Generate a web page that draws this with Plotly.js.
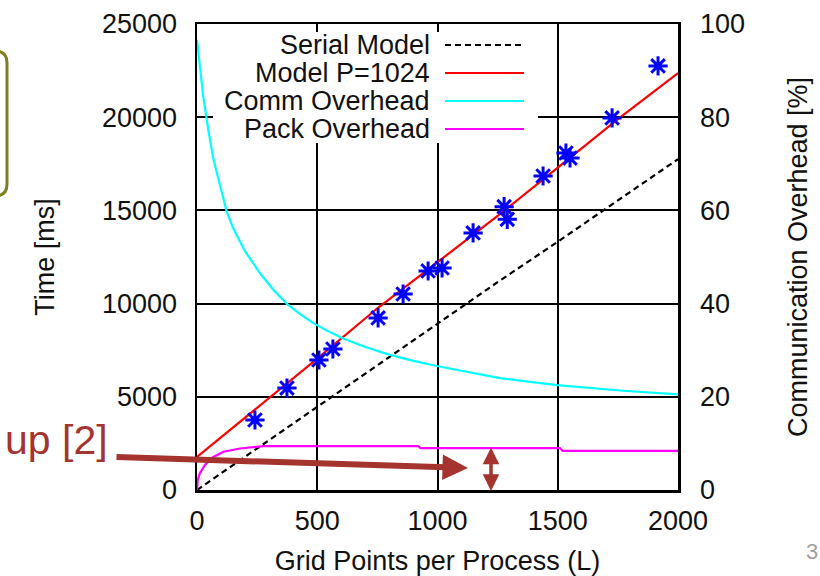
<!DOCTYPE html>
<html>
<head>
<meta charset="utf-8">
<script src="https://cdn.plot.ly/plotly-3.0.1.min.js"></script>
<style>
html,body{margin:0;padding:0;background:#fff;}
#chart{width:820px;height:576px;}
</style>
</head>
<body>
<div id="chart"></div>
<script>
// ---- data ----
const modelL       = [0, 250, 500, 750, 1000, 1250, 1500, 1750, 2000];
const serialModel  = [0, 2230, 4500, 6720, 8950, 11150, 13320, 15550, 17750];
const modelP1024   = [1770, 4400, 7050, 9750, 12200, 14700, 17300, 19900, 22370];

const measL = [241, 374, 507, 565, 753, 857, 961, 1019, 1148, 1277, 1290, 1439, 1534, 1551, 1726, 1917];
const measT = [3755, 5470, 6975, 7565, 9230, 10515, 11750, 11910, 13790, 15200, 14520, 16845, 18080, 17810, 19960, 22750];

const commL   = [0, 26, 47, 68, 100, 124, 150, 200, 262, 320, 373, 430, 484, 540, 608, 700, 802, 900, 997, 1260, 1496, 1772, 2000];
const commPct = [96.6, 84.4, 77.3, 71, 64.5, 59.7, 56.2, 51.2, 46.5, 42.8, 40, 37.7, 35.8, 34.2, 32.5, 30.7, 29, 27.7, 26.6, 24, 22.5, 21.3, 20.5];

const packL   = [0, 3, 12, 33, 68, 110, 179, 276, 919, 930, 1509, 1520, 2000];
const packPct = [0, 2.1, 3.6, 5.4, 7.1, 8.2, 8.9, 9.4, 9.4, 9.0, 9.0, 8.4, 8.4];

const legendNames = ["Serial Model", "Model P=1024", "Comm Overhead", "Pack Overhead"];
const legendColors = ["#000000", "#ff0000", "#00ffff", "#ff00ff"];
const legendDash = ["6px,4px", "solid", "solid", "solid"];

const xTicks  = [0, 500, 1000, 1500, 2000];
const yTicks  = [0, 5000, 10000, 15000, 20000, 25000];
const y2Ticks = [0, 20, 40, 60, 80, 100];

// ---- geometry helpers (plot area in pixels) ----
const W = 820, H = 576;
const PL = 197, PR = 678, PT = 24, PB = 490;
const px = v => (v - PL) / (PR - PL);
const py = v => (PB - v) / (PB - PT);

const FONT = "Liberation Sans, Arial, Helvetica, sans-serif";
const TXT = "#111111";
const ARROW = "#a5332e";
const FS = 27;

const traces = [
  {x: modelL, y: serialModel, mode: "lines", name: legendNames[0],
   line: {color: "#000", width: 2.2, dash: "6px,4px"}},
  {x: modelL, y: modelP1024, mode: "lines", name: legendNames[1],
   line: {color: "#ff0000", width: 2.2}},
  {x: commL, y: commPct, yaxis: "y2", mode: "lines", name: legendNames[2],
   line: {color: "#00ffff", width: 2.2}},
  {x: packL, y: packPct, yaxis: "y2", mode: "lines", name: legendNames[3],
   line: {color: "#ff00ff", width: 2.2}},
  {x: measL, y: measT, mode: "markers", name: "Measured",
   marker: {symbol: "asterisk-open", size: 16, color: "#0000ff",
            line: {color: "#0000ff", width: 3}}}
];

// custom legend (text on the left, line sample on the right)
const shapes = [
  {type: "rect", xref: "paper", yref: "paper", x0: px(213), x1: px(538), y0: py(143), y1: py(32),
   fillcolor: "#fff", line: {width: 0}, layer: "above"}
];
const annotations = [];
const rowY = [45, 73, 101, 129];
legendNames.forEach((n, i) => {
  annotations.push({xref: "paper", yref: "paper", x: px(432), y: py(rowY[i]),
    xanchor: "right", yanchor: "middle", showarrow: false, text: n,
    font: {family: FONT, size: FS, color: TXT}});
  shapes.push({type: "line", xref: "paper", yref: "paper", x0: px(445), x1: px(524),
    y0: py(rowY[i]), y1: py(rowY[i]), layer: "above",
    line: {color: legendColors[i], width: 2.2, dash: legendDash[i]}});
});

// slide decorations
// olive rounded box at the left edge
(function(){
  const r = 12, x0 = -40, x1 = 7, y0 = 51, y1 = 196;
  const P = (x, y) => px(x).toFixed(5) + "," + py(y).toFixed(5);
  const path = "M" + P(x0, y0) + " L" + P(x1 - r, y0) +
    " Q" + P(x1, y0) + " " + P(x1, y0 + r) +
    " L" + P(x1, y1 - r) +
    " Q" + P(x1, y1) + " " + P(x1 - r, y1) +
    " L" + P(x0, y1);
  shapes.push({type: "path", xref: "paper", yref: "paper", path: path,
    line: {color: "#7f7f1e", width: 3}, layer: "above"});
})();

annotations.push({xref: "paper", yref: "paper", x: px(110), y: py(440),
  xanchor: "right", yanchor: "middle", showarrow: false, text: "up [2]",
  font: {family: FONT, size: 41, color: ARROW}});
annotations.push({xref: "paper", yref: "paper", x: px(468), y: py(468),
  axref: "pixel", ayref: "pixel", ax: -353, ay: -11, text: "", showarrow: true,
  arrowhead: 2, arrowsize: 0.85, arrowwidth: 6, arrowcolor: ARROW});
annotations.push({xref: "paper", yref: "paper", x: px(491), y: py(491),
  ax: 0, ay: -45, text: "", showarrow: true, arrowside: "end+start",
  arrowhead: 2, arrowsize: 0.95, startarrowhead: 2, startarrowsize: 0.95,
  arrowwidth: 3.5, arrowcolor: ARROW});
annotations.push({xref: "paper", yref: "paper", x: px(812), y: py(551),
  xanchor: "center", yanchor: "middle", showarrow: false, text: "3",
  font: {family: FONT, size: 22, color: "#a0a0a0"}});

const axisCommon = {
  showline: true, linecolor: "#000", linewidth: 2.5,
  showgrid: true, gridcolor: "#000", gridwidth: 2,
  ticks: "inside", ticklen: 8, tickwidth: 2, tickcolor: "#000",
  zeroline: false, tickfont: {family: FONT, size: FS, color: TXT}
};

const layout = {
  width: W, height: H,
  margin: {l: PL, r: W - PR, t: PT, b: H - PB},
  paper_bgcolor: "#fff", plot_bgcolor: "#fff",
  showlegend: false,
  font: {family: FONT, color: TXT},
  xaxis: Object.assign({}, axisCommon, {
    range: [0, 2000], tickvals: xTicks, ticktext: xTicks.map(String),
    mirror: "ticks", ticklabelstandoff: 5,
    title: {text: "Grid Points per Process (L)", font: {family: FONT, size: FS, color: TXT}, standoff: 16}
  }),
  yaxis: Object.assign({}, axisCommon, {
    range: [0, 25000], tickvals: yTicks, ticktext: yTicks.map(String),
    mirror: true, ticklabelstandoff: 12,
    title: {text: "Time [ms]", font: {family: FONT, size: FS, color: TXT}, standoff: 40}
  }),
  yaxis2: Object.assign({}, axisCommon, {
    overlaying: "y", side: "right", showgrid: false,
    range: [0, 100], tickvals: y2Ticks, ticktext: y2Ticks.map(String),
    ticklabelstandoff: 14,
    title: {text: "Communication Overhead [%]", font: {family: FONT, size: FS, color: TXT}, standoff: 44}
  }),
  shapes: shapes,
  annotations: annotations
};

Plotly.newPlot("chart", traces, layout, {displayModeBar: false, staticPlot: true});
</script>
</body>
</html>
